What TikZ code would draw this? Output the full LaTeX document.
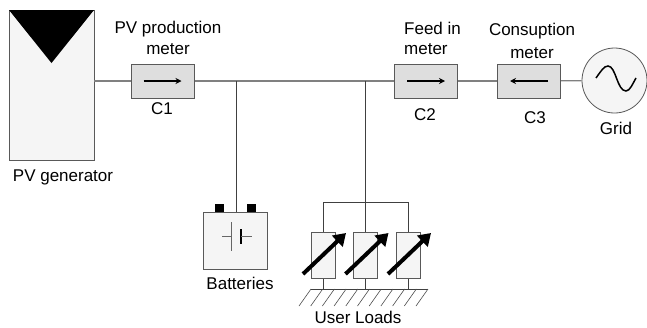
\documentclass[tikz,border=0pt]{standalone}
\usepackage{fontspec}
\setmainfont{Liberation Sans}
\usepackage{tikz}
\usetikzlibrary{arrows.meta}
\definecolor{wiregray}{gray}{0.5}
\tikzstyle{label}=[inner sep=0pt,font=\fontsize{17}{20}\selectfont]
\tikzstyle{meter}=[draw=black!65,fill=black!13,line width=1pt,minimum width=63pt,minimum height=34pt,inner sep=0pt]
\tikzstyle{panel}=[draw=black!65,fill=black!4,line width=.8pt,inner sep=0pt]
\tikzstyle{load}=[panel,minimum width=24pt,minimum height=46pt]
\tikzstyle{terminal}=[fill=black,minimum width=9pt,minimum height=9pt,inner sep=0pt]
\tikzstyle{edge} = [draw,wiregray,line width=1.2pt,-]
\tikzstyle{thin edge} = [draw,black!75,line width=.8pt,-]
\tikzstyle{flow} = [draw,line width=1.4pt,-{Stealth[length=6pt,width=6pt]}]
\tikzstyle{adjust} = [draw,line width=4pt,-{Triangle[length=12pt,width=15pt]}]
\begin{document}
\begin{tikzpicture}[x=1pt,y=-1pt]
        \useasboundingbox (0,0) rectangle (647,327);
        % source and meters
        \node[panel,minimum width=85pt,minimum height=150pt] (pv) at (51.5,85) {};
        \fill (9,10) -- (94,10) -- (51.5,63) -- cycle;
        \node[meter] (c1) at (162.5,81) {};
        \node[meter] (c2) at (426,81) {};
        \node[meter] (c3) at (529,81) {};
        \node[circle,panel,minimum size=65pt] (grid) at (614.5,80.5) {};
        \coordinate (j1) at (236,81);
        \coordinate (j2) at (365,81);
        \draw[edge] (pv.east |- c1) to (c1);
        \draw[edge] (c1) to (c2);
        \draw[edge] (c2) to (c3);
        \draw[edge] (c3) to (grid);
        \foreach \m in {c1,c2} {
          \draw[flow] ([xshift=-19pt]\m.center) to ([xshift=19pt]\m.center);
        }
        \draw[flow] ([xshift=19pt]c3.center) to ([xshift=-19pt]c3.center);
        \draw[line width=1.5pt] (596,78) .. controls (601,71) and (604,66) .. (608,66) .. controls (616,66) and (617,91) .. (626,91) .. controls (630,91) and (633,83) .. (636,78);
        % batteries
        \node[terminal] (t1) at (219.5,208.5) {};
        \node[terminal] (t2) at (251.5,208.5) {};
        \node[panel,minimum width=64pt,minimum height=57pt] (bat) at (235,240.5) {};
        \draw[thin edge] (j1) to (j1 |- bat.north);
        \coordinate (p1) at (231,236.5);
        \coordinate (p2) at (241,236.5);
        \draw[black!60,line width=.8pt] (222,236.5) to (p1);
        \draw[black!60,line width=.8pt] (231,222) to (231,251);
        \draw[line width=1.4pt] (241,229) to (241,244);
        \draw[black!60,line width=.8pt] (p2) to (252,236.5);
        % loads
        \coordinate (g1) at (323,289);
        \coordinate (g2) at (365,289);
        \coordinate (g3) at (408,289);
        \draw[thin edge] (j2) to (g2);
        \draw[thin edge] (g1) to (323,202) to (408,202) to (g3);
        \draw[black!75,line width=.8pt] (311,289) to (428,289);
        \foreach \i in {0,...,10} {
          \draw[black!70,line width=.6pt] (299+\i*11.7,306) to (311+\i*11.7,289);
        }
        \node[load] (l1) at (323,255) {};
        \node[load] (l2) at (365.5,255) {};
        \node[load] (l3) at (408,255) {};
        \foreach \l in {l1,l2,l3} {
          \draw[adjust] ([shift={(-20pt,-19pt)}]\l.center) to ([shift={(23pt,22pt)}]\l.center);
        }
        % labels
        \node[label] (lab1) at (168,29) {PV production};
        \node[label] (lab2) at (168,49) {meter};
        \node[label] (lab3) at (162,109) {C1};
        \node[label] (lab4) at (63,177) {PV generator};
        \node[label] (lab5) at (240,283) {Batteries};
        \node[label] (lab6) at (358,317) {User Loads};
        \node[label,anchor=west] (lab7) at (404,28) {Feed in};
        \node[label,anchor=west] (lab8) at (404,49) {meter};
        \node[label] (lab9) at (425,115) {C2};
        \node[label] (lab10) at (532,31) {Consuption};
        \node[label] (lab11) at (532,53) {meter};
        \node[label] (lab12) at (535,118) {C3};
        \node[label] (lab13) at (616,128) {Grid};
      \end{tikzpicture}
\end{document}
